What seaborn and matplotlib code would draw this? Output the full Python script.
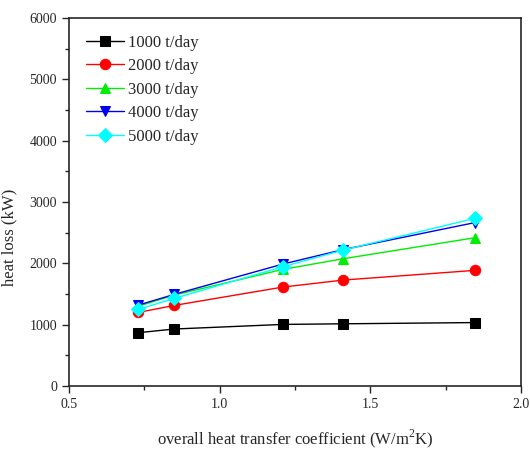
import matplotlib
matplotlib.use("Agg")
import matplotlib.pyplot as plt
import seaborn as sns
import pandas as pd
from matplotlib.ticker import MultipleLocator

x_vals = [0.73, 0.85, 1.21, 1.41, 1.847]
s1000 = [870, 930, 1005, 1015, 1035]
s2000 = [1200, 1315, 1614, 1728, 1886]
s3000 = [1300, 1484, 1902, 2076, 2418]
s4000 = [1320, 1495, 1989, 2225, 2665]
s5000 = [1250, 1430, 1946, 2217, 2734]
labels = ["1000 t/day", "2000 t/day", "3000 t/day", "4000 t/day", "5000 t/day"]
colors = ["black", "red", "#00ee00", "#0000ee", "cyan"]
markers = ["s", "o", "^", "v", "D"]

rows = []
for lab, ys in zip(labels, [s1000, s2000, s3000, s4000, s5000]):
    for xv, yv in zip(x_vals, ys):
        rows.append({"x": xv, "y": yv, "series": lab})
df = pd.DataFrame(rows)

sns.set_style("ticks")
plt.rcParams["font.family"] = ["Liberation Serif", "DejaVu Serif"]
plt.rcParams["mathtext.fontset"] = "custom"
plt.rcParams["mathtext.rm"] = "Liberation Serif"

fig = plt.figure(figsize=(5.3, 4.51), dpi=100)
ax = fig.add_axes([0.130, 0.144, 0.853, 0.816])

for lab, c, m in zip(labels, colors, markers):
    sub = df[df["series"] == lab]
    sns.lineplot(data=sub, x="x", y="y", ax=ax, color=c, marker=m,
                 markersize=7.5 if m != "D" else 7, markeredgecolor=c,
                 linewidth=1.0, label=lab, sort=False)

ax.set_xlim(0.5, 2.0)
ax.set_ylim(0, 6000)
ax.xaxis.set_major_locator(MultipleLocator(0.5))
ax.xaxis.set_minor_locator(MultipleLocator(0.25))
ax.yaxis.set_major_locator(MultipleLocator(1000))
ax.yaxis.set_minor_locator(MultipleLocator(500))
ax.tick_params(which="both", direction="out", top=False, right=False, labelsize=10, width=1)
ax.tick_params(which="major", length=5)
ax.tick_params(which="minor", length=3)
for s in ax.spines.values():
    s.set_visible(True)
    s.set_linewidth(1.2)
ax.set_xlabel("overall heat transfer coefficient (W/m$^\\mathregular{2}$K)", fontsize=12, labelpad=12)
ax.set_ylabel("heat loss (kW)", fontsize=12)
ax.yaxis.set_label_coords(-0.113, 0.405)

leg = ax.legend(loc="upper left", frameon=False, fontsize=12, handlelength=2.3,
                borderaxespad=0.6, labelspacing=0.45, handletextpad=0.25)

fig.savefig("out.png", dpi=100)
